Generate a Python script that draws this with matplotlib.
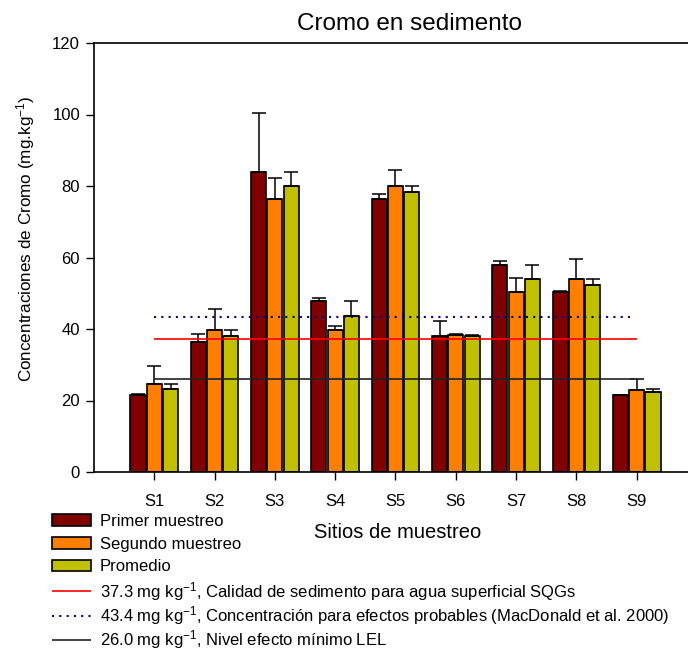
import numpy as np
from matplotlib import pyplot as plt
import matplotlib

matplotlib.use("Agg")
plt.rcParams['font.family'] = ['Liberation Sans', 'DejaVu Sans']
plt.rcParams['mathtext.default'] = 'regular'

# datos de cromo por sitio (mg/kg)
sitios = ["S1", "S2", "S3", "S4", "S5", "S6", "S7", "S8", "S9"]
primer = [21.5, 36.5, 83.8, 47.8, 76.4, 38.0, 57.8, 50.4, 21.4]
primer_err = [0.3, 2.0, 16.6, 1.0, 1.4, 4.3, 1.3, 0.3, 0.2]
segundo = [24.7, 39.7, 76.4, 39.7, 80.1, 38.4, 50.4, 54.1, 23.0]
segundo_err = [5.0, 6.0, 5.9, 1.0, 4.4, 0.3, 4.0, 5.6, 2.9]
promedio = [23.1, 38.1, 80.1, 43.7, 78.2, 38.0, 54.1, 52.3, 22.3]
promedio_err = [1.6, 1.6, 3.7, 4.1, 1.9, 0.2, 3.7, 1.8, 0.8]

# valores guia
sqg = 37.3
pec = 43.4
lel = 26.0

fig = plt.figure(figsize=(6.88, 6.5), dpi=100)
ax = plt.axes([94/688, 1-472/650, 603/688, 429/650])

x = np.arange(1, len(sitios)+1)
w = 0.25
dx = 0.27
ek = dict(ecolor="black", elinewidth=1.1, capsize=4.7, capthick=1.1)

series = [(primer, primer_err, "#800000", "Primer muestreo", -dx),
          (segundo, segundo_err, "#FF8000", "Segundo muestreo", 0),
          (promedio, promedio_err, "#C0C000", "Promedio", dx)]
barras = []
for vals, err, color, label, off in series:
    yerr = [np.zeros(len(err)), err]
    b = ax.bar(x + off, vals, w, color=color, edgecolor="black", linewidth=1.2,
               yerr=yerr, error_kw=ek, label=label, zorder=2)
    barras.append(b)

# lineas de referencia
l1 = ax.hlines(sqg, 1, 9, colors="red", linewidth=1.2, zorder=3,
               label="37.3 mg kg$^{-1}$, Calidad de sedimento para agua superficial SQGs")
l2 = ax.hlines(pec, 1, 8.95, colors="#00008B", linestyles=(0, (1, 2.5)), linewidth=1.5, zorder=3,
               label="43.4 mg kg$^{-1}$, Concentración para efectos probables (MacDonald et al. 2000)")
l3 = ax.hlines(lel, 1, 8.95, colors="#222222", linewidth=1.2, zorder=3,
               label="26.0 mg kg$^{-1}$, Nivel efecto mínimo LEL")
lineas = [l1, l2, l3]

ax.set_xlim(0, 10)
ax.set_ylim(0, 120)
ax.set_xticks(x)
ax.set_xticklabels(sitios)
ax.set_yticks(range(0, 121, 20))
ax.tick_params(direction="out", length=6, width=1, labelsize=12, pad=10)
ax.tick_params(axis="y", pad=4)
for s in ax.spines.values():
    s.set_linewidth(1.2)

fig.text(410/688, 1-24/650, "Cromo en sedimento", fontsize=17.5, ha="center", va="center")
ax.set_ylabel("Concentraciones de Cromo (mg.kg$^{-1}$)", fontsize=12.3)
ax.yaxis.set_label_coords(-(94-37)/603, (472-239)/429)
fig.text(398/688, 1-533/650, "Sitios de muestreo", fontsize=14.5, ha="center", va="center")

# leyenda en dos bloques: barras y lineas guia
leg_kw = dict(loc="upper left", frameon=False, fontsize=12, borderpad=0, borderaxespad=0,
              handlelength=2.33, handleheight=0.72, handletextpad=0.55)
fig.legend(barras, [b.get_label() for b in barras], bbox_to_anchor=(52/688, 1-514/650),
           labelspacing=0.46, **leg_kw)
fig.legend(lineas, [l.get_label() for l in lineas], bbox_to_anchor=(52/688, 1-580/650),
           labelspacing=0.08, **leg_kw)

plt.savefig("out.png", dpi=100)
